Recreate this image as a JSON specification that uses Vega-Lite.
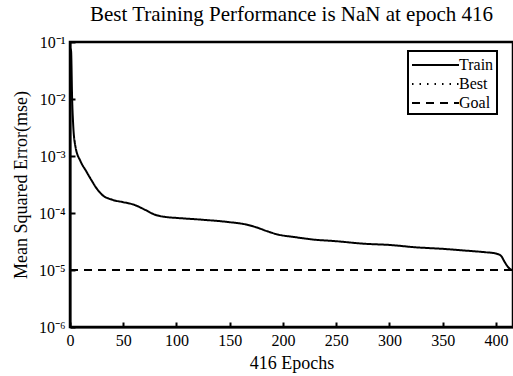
{
  "$schema": "https://vega.github.io/schema/vega-lite/v6.json",
  "width": 443,
  "height": 285,
  "autosize": {"type": "none"},
  "padding": {"left": 70, "top": 42, "right": 0, "bottom": 49},
  "background": "white",
  "title": {"text": "Best Training Performance is NaN at epoch 416", "font": "Liberation Serif", "fontSize": 21, "fontWeight": "normal", "color": "black", "offset": 9},
  "config": {
    "view": {"stroke": "black", "strokeWidth": 2.5},
    "axis": {"labelFont": "Liberation Serif", "titleFont": "Liberation Serif", "labelColor": "black", "titleColor": "black", "domainColor": "black", "domainWidth": 2, "tickColor": "black", "tickWidth": 2, "grid": false, "titleFontWeight": "normal"},
    "legend": {"labelFont": "Liberation Serif", "labelFontSize": 16, "labelColor": "black", "strokeWidth": 2}
  },
  "data": {"values": [
    {"epoch": 0, "mse": 0.077, "series": "Train"},
    {"epoch": 1, "mse": 0.07, "series": "Train"},
    {"epoch": 2, "mse": 0.01, "series": "Train"},
    {"epoch": 3, "mse": 0.0035, "series": "Train"},
    {"epoch": 5, "mse": 0.0015, "series": "Train"},
    {"epoch": 10, "mse": 0.0008, "series": "Train"},
    {"epoch": 15, "mse": 0.00055, "series": "Train"},
    {"epoch": 20, "mse": 0.00038, "series": "Train"},
    {"epoch": 25, "mse": 0.00027, "series": "Train"},
    {"epoch": 30, "mse": 0.00021, "series": "Train"},
    {"epoch": 40, "mse": 0.00017, "series": "Train"},
    {"epoch": 50, "mse": 0.000155, "series": "Train"},
    {"epoch": 60, "mse": 0.00014, "series": "Train"},
    {"epoch": 70, "mse": 0.000115, "series": "Train"},
    {"epoch": 80, "mse": 0.000093, "series": "Train"},
    {"epoch": 90, "mse": 0.000085, "series": "Train"},
    {"epoch": 100, "mse": 0.000082, "series": "Train"},
    {"epoch": 125, "mse": 0.000076, "series": "Train"},
    {"epoch": 150, "mse": 0.000069, "series": "Train"},
    {"epoch": 165, "mse": 0.000063, "series": "Train"},
    {"epoch": 175, "mse": 0.000056, "series": "Train"},
    {"epoch": 185, "mse": 0.000048, "series": "Train"},
    {"epoch": 195, "mse": 0.000042, "series": "Train"},
    {"epoch": 210, "mse": 0.000038, "series": "Train"},
    {"epoch": 230, "mse": 0.000034, "series": "Train"},
    {"epoch": 250, "mse": 0.000032, "series": "Train"},
    {"epoch": 275, "mse": 0.000029, "series": "Train"},
    {"epoch": 300, "mse": 0.0000275, "series": "Train"},
    {"epoch": 325, "mse": 0.000025, "series": "Train"},
    {"epoch": 350, "mse": 0.0000235, "series": "Train"},
    {"epoch": 370, "mse": 0.000022, "series": "Train"},
    {"epoch": 390, "mse": 0.0000205, "series": "Train"},
    {"epoch": 400, "mse": 0.0000195, "series": "Train"},
    {"epoch": 405, "mse": 0.0000175, "series": "Train"},
    {"epoch": 408, "mse": 0.000014, "series": "Train"},
    {"epoch": 411, "mse": 0.0000115, "series": "Train"},
    {"epoch": 414, "mse": 0.0000102, "series": "Train"},
    {"epoch": 416, "mse": 0.00001, "series": "Train"},
    {"epoch": 0, "mse": 0.00001, "series": "Goal"},
    {"epoch": 416, "mse": 0.00001, "series": "Goal"}
  ]},
  "mark": {"type": "line", "color": "black", "strokeWidth": 2, "interpolate": "monotone", "clip": true},
  "encoding": {
    "x": {"field": "epoch", "type": "quantitative", "scale": {"domain": [0, 416], "nice": false, "zero": false},
      "axis": {"title": "416 Epochs", "titleFontSize": 18, "labelFontSize": 16, "values": [0, 50, 100, 150, 200, 250, 300, 350, 400], "tickSize": -5, "labelPadding": 10, "titlePadding": 6, "labelFlush": false}},
    "y": {"field": "mse", "type": "quantitative", "scale": {"type": "log", "domain": [0.000001, 0.1], "nice": false},
      "axis": {"title": "Mean Squared Error(mse)", "titleFontSize": 18, "labelFontSize": 16, "values": [0.000001, 0.00001, 0.0001, 0.001, 0.01, 0.1], "tickSize": -5, "labelPadding": 10, "titlePadding": 8,
        "labelExpr": "'10' + ['⁰','⁻¹','⁻²','⁻³','⁻⁴','⁻⁵','⁻⁶'][round(-log(datum.value)/LN10)]"}},
    "strokeDash": {"field": "series", "type": "nominal",
      "scale": {"domain": ["Train", "Best", "Goal"], "range": [[1, 0], [1.5, 6], [8, 6]]},
      "legend": {"title": null, "orient": "none", "legendX": 338, "legendY": 9, "symbolType": "M-1,0H3.7", "symbolSize": 400, "symbolStrokeWidth": 2, "symbolStrokeColor": "black", "strokeColor": "black", "padding": 3, "rowPadding": 0, "labelOffset": 26}}
  }
}
